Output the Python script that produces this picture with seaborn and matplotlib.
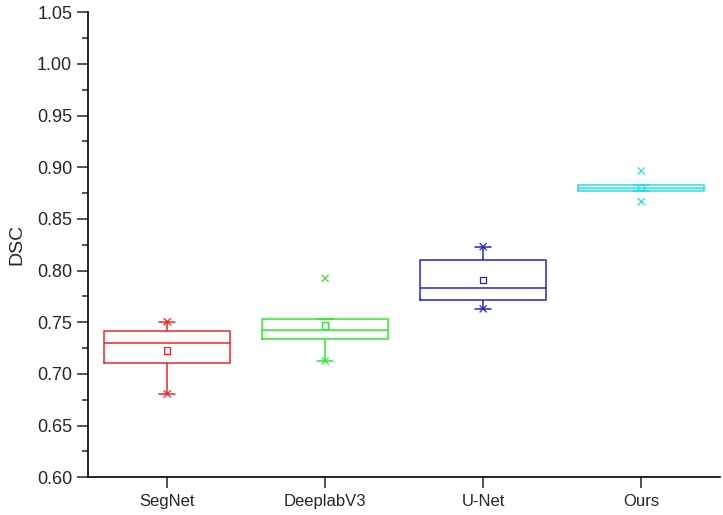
import numpy as np
import pandas as pd
import matplotlib
matplotlib.use("Agg")
import matplotlib.pyplot as plt
from matplotlib.ticker import MultipleLocator, FormatStrFormatter
import seaborn as sns

# Summary values
methods = ["SegNet", "DeeplabV3", "U-Net", "Ours"]
whisker_low = [0.6806, 0.7126, 0.7630, 0.8769]
q1 = [0.7110, 0.7342, 0.7713, 0.8769]
median = [0.7297, 0.7423, 0.7830, 0.8800]
q3 = [0.7420, 0.7532, 0.8100, 0.8830]
whisker_high = [0.7506, 0.7532, 0.8232, 0.8830]
means = [0.7226, 0.7468, 0.7907, 0.8807]
min_vals = [0.6806, 0.7126, 0.7630, 0.8668]
max_vals = [0.7506, 0.7926, 0.8232, 0.8965]

colors = ["#e8262a", "#2ee82e", "#2424c8", "#22dfe6"]

# long-form table: five-number summary per method (whis=(0,100) reproduces it)
rows = []
for i, m in enumerate(methods):
    for v in (whisker_low[i], q1[i], median[i], q3[i], whisker_high[i]):
        rows.append({"method": m, "DSC": v})
df = pd.DataFrame(rows)
df_ext = pd.DataFrame({"method": methods * 2, "DSC": min_vals + max_vals})

sns.set_style("ticks")
plt.rcParams["font.family"] = ["Liberation Sans", "DejaVu Sans"]

fig = plt.figure(figsize=(7.23, 5.15), dpi=100)
ax = fig.add_axes([0.122, 0.0732, 0.874, 0.903])

sns.boxplot(data=df, x="method", y="DSC", hue="method", palette=colors,
            whis=(0, 100), width=0.8, fill=False, linewidth=1.1,
            showfliers=False, legend=False, capwidths=0.1, ax=ax)

pos = np.arange(len(methods))
# mean markers (hollow squares)
ax.scatter(pos, means, marker="s", s=22, facecolors="none",
           edgecolors=colors, linewidths=0.9, zorder=5)
# min / max markers
sns.scatterplot(data=df_ext, x="method", y="DSC", hue="method", palette=colors,
                marker="x", s=26, linewidth=0.9, legend=False, ax=ax, zorder=5)

ax.set_xlim(-0.5, 3.5)
ax.set_ylim(0.60, 1.05)
ax.yaxis.set_major_locator(MultipleLocator(0.05))
ax.yaxis.set_minor_locator(MultipleLocator(0.025))
ax.yaxis.set_major_formatter(FormatStrFormatter("%.2f"))

ax.set_xlabel("")
ax.set_ylabel("DSC", fontsize=14, labelpad=8)
ax.tick_params(axis="y", which="major", length=8, width=1.1, labelsize=13, direction="out")
ax.tick_params(axis="y", which="minor", length=4, width=1.1, direction="out")
ax.tick_params(axis="x", which="major", length=8, width=1.1, labelsize=12, direction="out", pad=4)
sns.despine(ax=ax)
for s in ("left", "bottom"):
    ax.spines[s].set_linewidth(1.2)
    ax.spines[s].set_color("black")

fig.savefig("out.png", dpi=100)
